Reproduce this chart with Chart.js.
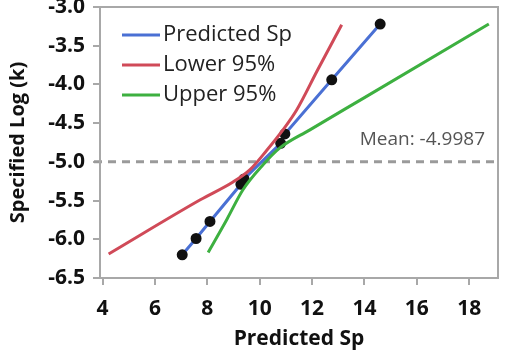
<!DOCTYPE html>
<html>
<head>
<meta charset="utf-8">
<script src="https://cdn.jsdelivr.net/npm/chart.js@4"></script>
<style>
	html, body { margin: 0; padding: 0; background: #fff; }
	#wrap { width: 515px; height: 356px; }
</style>
</head>
<body>
<div id="wrap"><canvas id="Sp_Plot" width="515" height="356"></canvas></div>
<script>

// Predicted Sp (x) vs Specified Log (k) (y)
const predicted_x = [7.04, 7.57, 8.1, 9.28, 9.4, 10.8, 10.96, 12.75, 14.6];
const predicted_y = [-6.2, -5.99, -5.77, -5.29, -5.22, -4.76, -4.64, -3.94, -3.22];

const lower_x = [4.23, 7.73, 8.98, 9.63, 10.27, 10.88, 11.41, 12.2, 13.13];
const lower_y = [-6.19, -5.49, -5.26, -5.1, -4.85, -4.59, -4.33, -3.82, -3.23];

const upper_x = [8.03, 8.75, 9.36, 10.12, 10.77, 11.9, 14.0, 18.75];
const upper_y = [-6.17, -5.74, -5.36, -5.04, -4.82, -4.59, -4.17, -3.22];

const mean_value = -4.9987;
const mean_label = "Mean: -4.9987";

const x_ticks = [4, 6, 8, 10, 12, 14, 16, 18];
const y_ticks = [-6.5, -6.0, -5.5, -5.0, -4.5, -4.0, -3.5, -3.0];

const series_names = ["Predicted Sp", "Lower 95%", "Upper 95%"];
const series_colors = ["#4a70d4", "#d04a58", "#3db040"];

function toPoints(xs, ys) {
	return xs.map(function(x, i) { return { x: x, y: ys[i] }; });
}

Chart.defaults.font.family = "'Open Sans', 'Noto Sans', sans-serif";
Chart.defaults.color = "#111";

// draws frame, mean line and the legend inside the plot
const extras = {
	id: "extras",
	beforeDatasetsDraw(chart) {
		const ctx = chart.ctx;
		const a = chart.chartArea;
		const ys = chart.scales.y;
		const yy = ys.getPixelForValue(mean_value);
		ctx.save();
		ctx.strokeStyle = "#9a9a9a";
		ctx.lineWidth = 3;
		ctx.setLineDash([8, 6]);
		ctx.beginPath();
		ctx.moveTo(a.left - 6, yy);
		ctx.lineTo(a.right, yy);
		ctx.stroke();
		ctx.setLineDash([]);
		ctx.fillStyle = "#555";
		ctx.font = "19px 'Open Sans', sans-serif";
		ctx.textAlign = "right";
		ctx.textBaseline = "middle";
		ctx.fillText(mean_label, a.right - 13, yy - 22);
		ctx.restore();
	},
	afterDraw(chart) {
		const ctx = chart.ctx;
		const a = chart.chartArea;
		ctx.save();
		ctx.strokeStyle = "#a8a8a8";
		ctx.lineWidth = 2;
		ctx.strokeRect(a.left, a.top, a.right - a.left, a.bottom - a.top);
		// legend
		ctx.font = "22px 'Open Sans', sans-serif";
		ctx.textBaseline = "middle";
		ctx.textAlign = "left";
		for (let i = 0; i < series_names.length; i++) {
			const ly = a.top + 28 + i * 30;
			ctx.strokeStyle = series_colors[i];
			ctx.lineWidth = 3;
			ctx.beginPath();
			ctx.moveTo(a.left + 22, ly);
			ctx.lineTo(a.left + 60, ly);
			ctx.stroke();
			ctx.fillStyle = "#222";
			ctx.fillText(series_names[i], a.left + 63, ly);
		}
		ctx.restore();
	}
};

const sp_plot = document.getElementById("Sp_Plot").getContext("2d");

var Sp_Plot_Obj = new Chart(sp_plot, {
	type: "scatter",
	data: {
		datasets: [
			{
				// Lower 95%
				label: series_names[1],
				data: toPoints(lower_x, lower_y),
				showLine: true,
				borderColor: series_colors[1],
				borderWidth: 3,
				pointRadius: 0,
				cubicInterpolationMode: "monotone",
			},
			{
				// Upper 95%
				label: series_names[2],
				data: toPoints(upper_x, upper_y),
				showLine: true,
				borderColor: series_colors[2],
				borderWidth: 3,
				pointRadius: 0,
				cubicInterpolationMode: "monotone",
			},
			{
				// Predicted Sp
				label: series_names[0],
				data: toPoints(predicted_x, predicted_y),
				showLine: true,
				borderColor: series_colors[0],
				borderWidth: 3,
				pointRadius: 4,
				pointBackgroundColor: "#111",
				pointBorderColor: "#111",
			}
		]
	},
	options: {
		responsive: false,
		animation: false,
		events: [],
		layout: { padding: { top: 7, right: 17, left: 0, bottom: 0 } },
		plugins: {
			legend: { display: false },
			tooltip: { enabled: false },
		},
		scales: {
			x: {
				type: "linear",
				min: 3.9,
				max: 19.1,
				afterBuildTicks: function(axis) { axis.ticks = x_ticks.map(function(v) { return { value: v }; }); },
				grid: { drawOnChartArea: false, color: "#a8a8a8", tickLength: 7, lineWidth: 2 },
				border: { display: false },
				ticks: { font: { size: 21, weight: "bold" }, color: "#111", padding: 11 },
				title: { display: true, text: "Predicted Sp", font: { size: 21, weight: "bold" }, color: "#111", padding: { top: 0 } },
				afterFit: function(axis) { axis.height = 78; axis.paddingLeft = 0; axis.paddingRight = 0; },
			},
			y: {
				type: "linear",
				min: -6.5,
				max: -3.0,
				afterBuildTicks: function(axis) { axis.ticks = y_ticks.map(function(v) { return { value: v }; }); },
				grid: { drawOnChartArea: false, color: "#a8a8a8", tickLength: 7, lineWidth: 2 },
				border: { display: false },
				ticks: {
					font: { size: 21, weight: "bold" }, color: "#111", padding: 8,
					callback: function(v) { return v.toFixed(1); }
				},
				title: { display: true, text: "Specified Log (k)", font: { size: 20, weight: "bold" }, color: "#111", padding: { top: 6, bottom: 4 } },
				afterFit: function(axis) { axis.width = 100; axis.paddingTop = 0; axis.paddingBottom = 0; },
			}
		}
	},
	plugins: [extras]
});
</script>
</body>
</html>
